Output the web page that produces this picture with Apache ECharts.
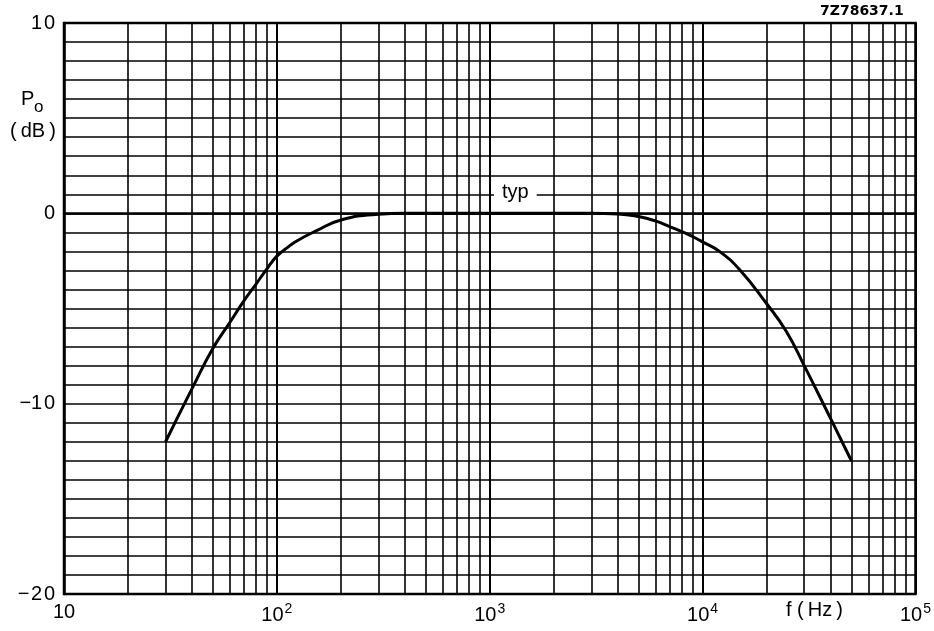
<!DOCTYPE html>
<html>
<head>
<meta charset="utf-8">
<title>Po vs f</title>
<script src="https://cdn.jsdelivr.net/npm/echarts@6/dist/echarts.min.js"></script>
<style>
  html, body { margin: 0; padding: 0; background: #fff; }
  #box { width: 934px; height: 631px; }
</style>
</head>
<body>
<div id="box"></div>
<script>
// frequency (Hz) and output level (dB)
var freq = [30, 40, 50, 60, 70, 80, 90, 100, 112, 124, 153, 200, 300, 400, 1000, 3000,
            4000, 5000, 6000, 7000, 8000, 9000, 10000, 12000, 14900, 20000, 24700,
            30000, 40000, 50000];
var po = [-12, -9.2, -7.1, -5.75, -4.6, -3.7, -2.9, -2.25, -1.8, -1.45, -0.92, -0.35, -0.05, 0, 0, 0,
          -0.03, -0.17, -0.4, -0.7, -0.96, -1.23, -1.5, -2.0, -2.95, -4.75, -6.2,
          -8.0, -10.8, -13];
// minor grid lines of the log paper
var minorFreqs = [20, 30, 40, 50, 60, 70, 80, 90,
                  200, 300, 400, 500, 600, 700, 800, 900,
                  2000, 3000, 4000, 5000, 6000, 7000, 8000, 9000,
                  20000, 30000, 40000, 50000, 60000, 70000, 80000, 90000];
var decadeLabels = {10: '{b|10}', 100: '{b|10}{s|2}', 1000: '{b|10}{s|3}', 10000: '{b|10}{s|4}', 100000: '{b|10}{s|5}'};
var yLabels = {10: '1\u200a0', 0: '0', '-10': '\u22121\u200a0', '-20': '\u2212\u200a2\u200a0'};

var curve = [];
for (var i = 0; i < freq.length; i++) curve.push([freq[i], po[i]]);

var font = '"Liberation Sans", Arial, sans-serif';
var chart = echarts.init(document.getElementById('box'));
chart.setOption({
  animation: false,
  textStyle: { fontFamily: font, color: '#000' },
  grid: { left: 64, right: 17, top: 23, bottom: 37, show: true, borderColor: '#000', borderWidth: 2.5 },
  xAxis: {
    type: 'log', logBase: 10, min: 10, max: 100000,
    axisLine: { lineStyle: { color: '#000', width: 2.5 } },
    axisTick: { show: false },
    splitLine: { show: true, lineStyle: { color: '#000', width: 2 } },
    axisLabel: {
      margin: 8,
      formatter: function (v) { return decadeLabels[Math.round(v)] || ''; },
      rich: {
        b: { fontSize: 20, fontFamily: font, color: '#000' },
        s: { fontSize: 14, fontFamily: font, color: '#000', padding: [0, 0, 12, 1] }
      }
    }
  },
  yAxis: {
    type: 'value', min: -20, max: 10, interval: 1,
    axisLine: { lineStyle: { color: '#000', width: 2.5 } },
    axisTick: { show: false },
    splitLine: { show: true, lineStyle: { color: '#000', width: 1.6 } },
    axisLabel: {
      fontSize: 20, color: '#000', margin: 9, showMinLabel: true, showMaxLabel: true,
      formatter: function (v) { return yLabels[Math.round(v)] || ''; }
    }
  },
  series: [
    {
      type: 'line', data: [], z: 1, silent: true,
      markLine: {
        silent: true, symbol: 'none', z: 1,
        label: { show: false },
        lineStyle: { color: '#000', width: 1.6, type: 'solid' },
        data: minorFreqs.map(function (f) { return { xAxis: f }; })
      }
    },
    {
      name: 'typ', type: 'line', data: curve, z: 5,
      smooth: 0.5, showSymbol: false,
      lineStyle: { color: '#000', width: 3 }
    }
  ],
  graphic: [
    { type: 'text', left: 820, top: 4, style: { text: '7Z78637.1', font: 'bold 14px "DejaVu Sans", sans-serif', fill: '#000' } },
    { type: 'text', left: 21, top: 89, style: { text: 'P', font: '20px ' + font, fill: '#000' } },
    { type: 'text', left: 34, top: 99, style: { text: 'o', font: '17px ' + font, fill: '#000' } },
    { type: 'text', left: 10, top: 121, style: { text: '(\u2009dB\u2009)', font: '20px ' + font, fill: '#000' } },
    { type: 'text', left: 786, top: 600, style: { text: 'f (\u2009Hz\u2009)', font: '20px ' + font, fill: '#000' } },
    { type: 'text', left: 494, top: 182, z: 10,
      style: { text: 'typ', font: '20px ' + font, fill: '#000', backgroundColor: '#fff', padding: [0, 8] } }
  ]
});
</script>
</body>
</html>
